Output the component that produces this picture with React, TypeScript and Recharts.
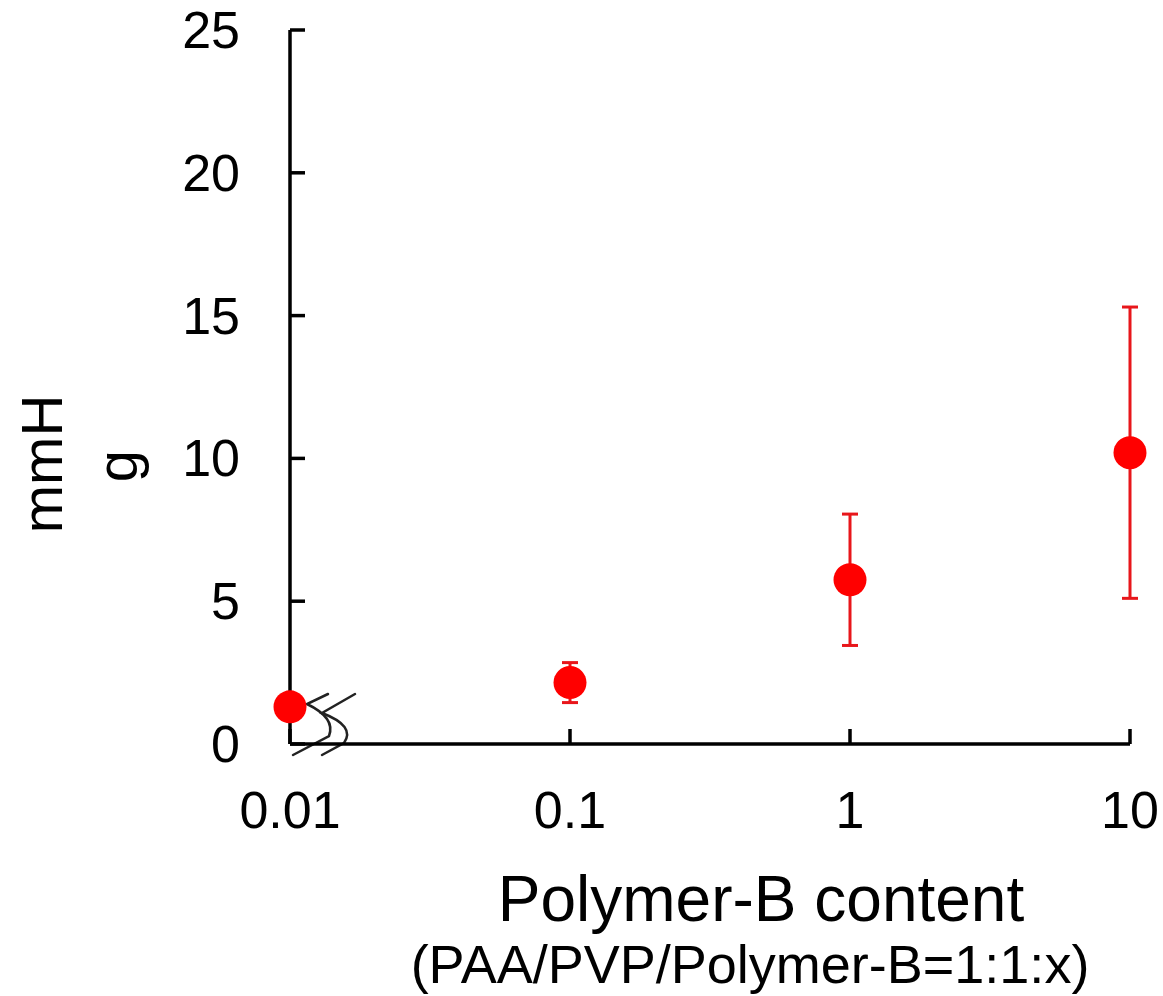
import React from 'react';
import { ScatterChart, Scatter, XAxis, YAxis, ErrorBar } from 'recharts';

const contents = [0.01, 0.1, 1, 10];
const pressure = [1.3, 2.15, 5.75, 10.2];
const pressureErr = [0, 0.7, 2.3, 5.1];
const xTicks = [0.01, 0.1, 1, 10];
const xTickLabels = ['0.01', '0.1', '1', '10'];
const yTicks = [0, 5, 10, 15, 20, 25];

const FONT = '"Liberation Sans", Arial, sans-serif';
const RED = '#ff0000';
const ERR_RED = '#e8161b';

const chartData = contents.map((x, i) => ({ x, y: pressure[i], err: pressureErr[i] }));

const XTick = (props: any) => {
  const { x, y, payload } = props;
  const idx = xTicks.indexOf(payload.value);
  return (
    <g>
      <line x1={x} x2={x} y1={y} y2={y - 15} stroke="#000" strokeWidth={3.5} />
      <text x={x} y={y + 84} textAnchor="middle" fontSize={52} fontFamily={FONT} fill="#000">
        {idx >= 0 ? xTickLabels[idx] : payload.value}
      </text>
    </g>
  );
};

const YTick = (props: any) => {
  const { x, y, payload } = props;
  return (
    <g>
      <line x1={x} x2={x + 15} y1={y} y2={y} stroke="#000" strokeWidth={3.5} />
      <text x={x - 50} y={y + 18} textAnchor="end" fontSize={52} fontFamily={FONT} fill="#000">
        {payload.value}
      </text>
    </g>
  );
};

const Dot = (props: any) => <circle cx={props.cx} cy={props.cy} r={16.5} fill={RED} />;

export default function App() {
  return (
    <div style={{ position: 'absolute', left: 0, top: 0, width: 1163, height: 996, background: '#fff' }}>
      {/* decorations behind the chart: axis titles and the axis-break mark */}
      <svg width={1163} height={996} style={{ position: 'absolute', left: 0, top: 0 }}>
        <g fontFamily={FONT} fill="#000">
          <text x={62} y={464} fontSize={58} textAnchor="middle" transform="rotate(-90, 62, 464)">mmH</text>
          <text x={137} y={466} fontSize={58} textAnchor="middle" transform="rotate(-90, 137, 466)">g</text>
          <text x={761} y={921} fontSize={64} textAnchor="middle">Polymer-B content</text>
          <text x={750} y={983} fontSize={54} textAnchor="middle">(PAA/PVP/Polymer-B=1:1:x)</text>
        </g>
        <g fill="none" stroke="#222" strokeWidth={2.5} strokeLinecap="round">
          <path d="M328,694 L307,704 Q336,718 329,736 L293,755" />
          <path d="M355,694 L322,713 Q356,726 344,743 L322,755" />
        </g>
      </svg>
      <div style={{ position: 'absolute', left: 0, top: 0 }}>
        <ScatterChart width={1163} height={996} margin={{ top: 30, right: 33, left: 0, bottom: 0 }}>
          <XAxis
            type="number"
            dataKey="x"
            scale="log"
            domain={[0.01, 10]}
            ticks={xTicks}
            height={252}
            tickSize={0}
            tickMargin={0}
            tickLine={false}
            axisLine={{ stroke: '#000', strokeWidth: 3.5 }}
            tick={<XTick />}
            interval={0}
          />
          <YAxis
            type="number"
            dataKey="y"
            domain={[0, 25]}
            ticks={yTicks}
            width={290}
            tickSize={0}
            tickMargin={0}
            tickLine={false}
            axisLine={{ stroke: '#000', strokeWidth: 3.5 }}
            tick={<YTick />}
            interval={0}
          />
          <Scatter data={chartData} fill={RED} shape={<Dot />} isAnimationActive={false}>
            <ErrorBar dataKey="err" direction="y" width={8} stroke={ERR_RED} strokeWidth={3} />
          </Scatter>
        </ScatterChart>
      </div>
    </div>
  );
}
